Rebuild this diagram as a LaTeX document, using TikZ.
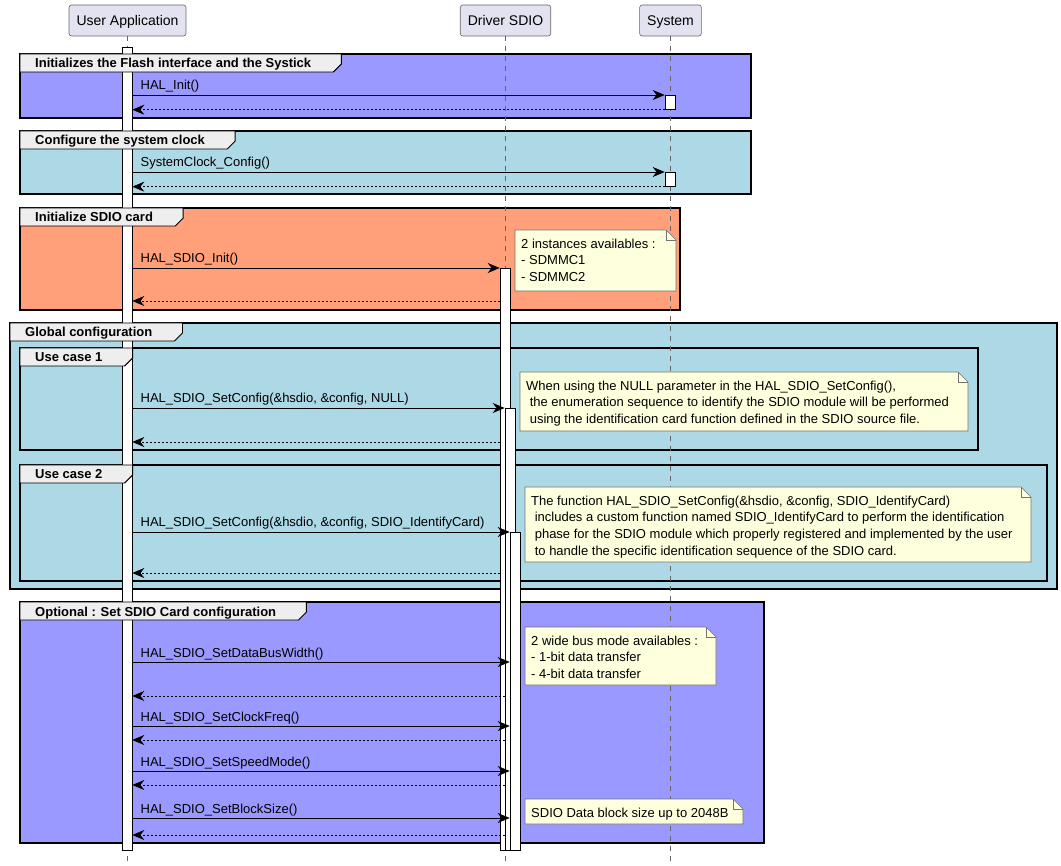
\documentclass[tikz,border=0pt]{standalone}
\usepackage{fontspec}
\setmainfont{Liberation Sans}
\usetikzlibrary{arrows.meta,positioning}

\definecolor{grpviolet}{HTML}{9999FF}
\definecolor{grpblue}{HTML}{ADD8E6}
\definecolor{grpsalmon}{HTML}{FFA07A}
\definecolor{partfill}{HTML}{E2E2F0}
\definecolor{notefill}{HTML}{FEFFDD}
\definecolor{tabfill}{HTML}{EEEEEE}

\pgfdeclarelayer{grpbg}
\pgfdeclarelayer{grptab}
\pgfsetlayers{grpbg,main,grptab}

\tikzset{
  participant/.style={draw=black!60, fill=partfill, rounded corners=2.5pt, line width=0.6pt,
    font=\fontsize{14}{16}\selectfont, minimum height=31pt, inner xsep=7.5pt, inner ysep=0pt,
    text height=11pt, text depth=0pt},
  lifeline/.style={draw=black!60, line width=0.6pt, dash pattern=on 5pt off 5pt},
  actbar/.style={draw=black, fill=white, line width=0.7pt, minimum width=10pt, inner sep=0pt, anchor=north},
  call/.style={-{Stealth[length=12pt,width=10pt,inset=4pt]}, line width=0.6pt},
  reply/.style={call, dash pattern=on 2pt off 2pt},
  msglabel/.style={anchor=base west, inner sep=0pt, xshift=8pt, yshift=5pt, font=\fontsize{13}{15}\selectfont},
  grpframe/.style={draw=black, line width=1.6pt},
  grptab/.style={draw=black, line width=0.9pt, fill=tabfill},
  grptitle/.style={anchor=base west, inner xsep=15pt, inner ysep=0pt, font=\bfseries\fontsize{13}{15}\selectfont},
  notebg/.style={draw=black!55, line width=0.6pt, fill=notefill},
  notetext/.style={anchor=north west, inner sep=0pt, align=left, font=\fontsize{13}{16.8}\selectfont},
}

% group frame: name, x0, y0, x1, y1, colour, title
\newcommand\grp[7]{%
  \begin{pgfonlayer}{grpbg}
    \filldraw[grpframe, fill=#6] (#2,#3) rectangle (#4,#5);
  \end{pgfonlayer}
  \begin{pgfonlayer}{grptab}
    \path (#2,#3+14) node[grptitle, text opacity=0] (#1) {#7};
    \filldraw[grptab] (#2,#3) -- (#1.east |- 0,#3) -- ++(15,0) -- ++(0,10) -- ++(-8,8) -- (#2,#3+18) -- cycle;
    \path (#1.base west) node[grptitle] (#1-txt) {#7};
  \end{pgfonlayer}
}

% note with folded corner: name, x0, y0, x1, y1, text
\newcommand\notebox[6]{%
  \filldraw[notebg] (#2,#3) -- (#4-10,#3) -- (#4,#3+10) -- (#4,#5) -- (#2,#5) -- cycle;
  \draw[notebg, fill=none] (#4-10,#3) -- (#4-10,#3+10) -- (#4,#3+10);
  \node[notetext] (#1) at (#2+6,#3+8.5) {#6};
}

\begin{document}
\begin{tikzpicture}[x=1pt,y=-1pt]
\useasboundingbox (0,0) rectangle (1061,866);

\grp{gflash}{20}{54}{751}{118}{grpviolet}{Initializes the Flash interface and the Systick}
\grp{gclock}{20}{131}{751}{194}{grpblue}{Configure the system clock}
\grp{ginit}{20}{208}{680}{310}{grpsalmon}{Initialize SDIO card}
\grp{gglobal}{10}{323}{1057}{589}{grpblue}{Global configuration}
\grp{gcase1}{20}{348}{978}{450}{grpblue}{Use case 1}
\grp{gcase2}{20}{465}{1047}{581}{grpblue}{Use case 2}
\grp{gopt}{20}{602}{764}{843}{grpviolet}{Optional : Set SDIO Card configuration}

\node[participant] (ua) at (127.5,20.5) {User Application};
\node[participant] (drv) at (505.5,20.5) {Driver SDIO};
\node[participant] (sys) at (670.5,20.5) {System};

\draw[lifeline] (ua.south) -- (ua.south |- 0,866);
\draw[lifeline] (drv.south) -- (drv.south |- 0,866);
\draw[lifeline] (sys.south) -- (sys.south |- 0,866);

\node[actbar, minimum height=803pt] (uabar) at (127,47) {};
\node[actbar, minimum height=14pt] (sys1) at (670,95) {};
\node[actbar, minimum height=14pt] (sys2) at (670,172) {};
\node[actbar, minimum height=582pt] (drv1) at (505,268) {};
\node[actbar, minimum height=442pt] (drv2) at (510,408) {};
\node[actbar, minimum height=318pt] (drv3) at (515,532) {};

\draw[call] (uabar.east |- sys1.north) -- node[msglabel, pos=0] (m1) {HAL\_Init()} (sys1.north west);
\draw[reply] (sys1.south west) -- (uabar.east |- sys1.south);
\draw[call] (uabar.east |- sys2.north) -- node[msglabel, pos=0] (m2) {SystemClock\_Config()} (sys2.north west);
\draw[reply] (sys2.south west) -- (uabar.east |- sys2.south);

\draw[call] (uabar.east |- drv1.north) -- node[msglabel, pos=0] (m3) {HAL\_SDIO\_Init()} (drv1.north west);
\draw[reply] (drv1.west |- 0,301) -- (uabar.east |- 0,301);
\notebox{n1}{515}{230}{676}{291}{2 instances availables :\\- SDMMC1\\- SDMMC2}

\draw[call] (uabar.east |- drv2.north) -- node[msglabel, pos=0] (m4) {HAL\_SDIO\_SetConfig(\&hsdio, \&config, NULL)} (drv2.north west);
\draw[reply] (drv1.west |- 0,442) -- (uabar.east |- 0,442);
\notebox{n2}{520}{372}{968}{431}{When using the NULL parameter in the HAL\_SDIO\_SetConfig(),\\\ the enumeration sequence to identify the SDIO module will be performed\\\ using the identification card function defined in the SDIO source file.}

\draw[call] (uabar.east |- drv3.north) -- node[msglabel, pos=0] (m5) {HAL\_SDIO\_SetConfig(\&hsdio, \&config, SDIO\_IdentifyCard)} (drv3.north west);
\draw[reply] (drv1.west |- 0,573) -- (uabar.east |- 0,573);
\notebox{n3}{525}{487}{1031}{562}{The function HAL\_SDIO\_SetConfig(\&hsdio, \&config, SDIO\_IdentifyCard)\\\ includes a custom function named SDIO\_IdentifyCard to perform the identification\\\ phase for the SDIO module which properly registered and implemented by the user\\\ to handle the specific identification sequence of the SDIO card.}

\draw[call] (uabar.east |- 0,662) -- node[msglabel, pos=0] (m6) {HAL\_SDIO\_SetDataBusWidth()} (drv3.west |- 0,662);
\draw[reply] (drv2.west |- 0,696) -- (uabar.east |- 0,696);
\notebox{n4}{525}{627}{716}{685}{2 wide bus mode availables :\\- 1-bit data transfer\\- 4-bit data transfer}
\draw[call] (uabar.east |- 0,726) -- node[msglabel, pos=0] (m7) {HAL\_SDIO\_SetClockFreq()} (drv3.west |- 0,726);
\draw[reply] (drv2.west |- 0,740) -- (uabar.east |- 0,740);
\draw[call] (uabar.east |- 0,771) -- node[msglabel, pos=0] (m8) {HAL\_SDIO\_SetSpeedMode()} (drv3.west |- 0,771);
\draw[reply] (drv2.west |- 0,785) -- (uabar.east |- 0,785);
\draw[call] (uabar.east |- 0,818) -- node[msglabel, pos=0] (m9) {HAL\_SDIO\_SetBlockSize()} (drv3.west |- 0,818);
\draw[reply] (drv2.west |- 0,835) -- (uabar.east |- 0,835);
\notebox{n5}{525}{799}{743}{824}{SDIO Data block size up to 2048B}
\end{tikzpicture}
\end{document}
